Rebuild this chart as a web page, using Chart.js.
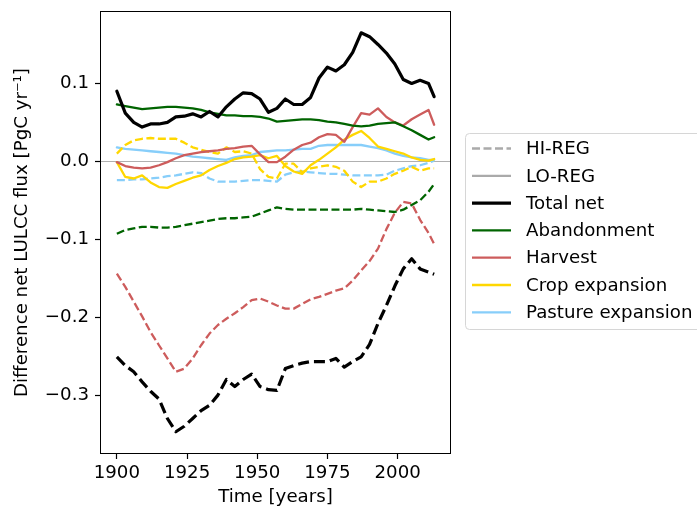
<!DOCTYPE html>
<html>
<head>
<meta charset="utf-8">
<script src="https://cdn.jsdelivr.net/npm/chart.js@4.4.0/dist/chart.umd.min.js"></script>
<style>
  html, body { margin: 0; padding: 0; background: #ffffff; }
  #wrap { width: 697px; height: 508px; }
</style>
</head>
<body>
<div id="wrap"><canvas id="fluxChart" width="697" height="508"></canvas></div>
<script>
// ---- data (every 3 years + last year) ----
const years = [1900, 1903, 1906, 1909, 1912, 1915, 1918, 1921, 1924, 1927, 1930, 1933, 1936,
               1939, 1942, 1945, 1948, 1951, 1954, 1957, 1960, 1963, 1966, 1969, 1972, 1975,
               1978, 1981, 1984, 1987, 1990, 1993, 1996, 1999, 2002, 2005, 2008, 2011, 2013];

// LO-REG (solid)
const totalLo = [0.090, 0.062, 0.050, 0.044, 0.048, 0.048, 0.050, 0.057, 0.058, 0.061, 0.057, 0.064, 0.057,
                 0.070, 0.080, 0.088, 0.087, 0.080, 0.063, 0.068, 0.080, 0.073, 0.073, 0.082, 0.107, 0.121,
                 0.116, 0.124, 0.140, 0.165, 0.160, 0.150, 0.139, 0.125, 0.105, 0.100, 0.104, 0.100, 0.083];
const abandLo = [0.073, 0.071, 0.069, 0.067, 0.068, 0.069, 0.070, 0.070, 0.069, 0.068, 0.066, 0.063, 0.061,
                 0.059, 0.059, 0.058, 0.058, 0.057, 0.055, 0.051, 0.052, 0.053, 0.054, 0.054, 0.053, 0.051,
                 0.050, 0.048, 0.046, 0.045, 0.046, 0.048, 0.049, 0.050, 0.045, 0.040, 0.034, 0.028, 0.031];
const harvLo = [-0.001, -0.006, -0.008, -0.009, -0.008, -0.005, -0.001, 0.004, 0.008, 0.010, 0.012, 0.013, 0.014,
                0.016, 0.017, 0.019, 0.020, 0.009, -0.001, -0.001, 0.006, 0.015, 0.021, 0.024, 0.031, 0.035,
                0.034, 0.025, 0.044, 0.062, 0.060, 0.068, 0.057, 0.050, 0.046, 0.054, 0.060, 0.066, 0.047];
const cropLo = [-0.001, -0.020, -0.022, -0.018, -0.027, -0.033, -0.034, -0.029, -0.025, -0.021, -0.018, -0.011, -0.006,
                -0.002, 0.003, 0.005, 0.006, 0.008, 0.004, 0.007, -0.006, -0.013, -0.016, -0.005, 0.002, 0.010,
                0.018, 0.028, 0.034, 0.039, 0.030, 0.019, 0.016, 0.013, 0.010, 0.005, 0.002, 0.001, 0.003];
const pastLo = [0.018, 0.016, 0.015, 0.014, 0.013, 0.012, 0.011, 0.010, 0.008, 0.006, 0.005, 0.004, 0.003,
                0.002, 0.005, 0.007, 0.008, 0.012, 0.013, 0.014, 0.014, 0.015, 0.016, 0.016, 0.020, 0.021,
                0.021, 0.021, 0.021, 0.021, 0.019, 0.017, 0.014, 0.010, 0.007, 0.005, 0.004, 0.002, 0.002];

// HI-REG (dashed)
const totalHi = [-0.251, -0.262, -0.270, -0.283, -0.295, -0.305, -0.330, -0.347, -0.340, -0.330, -0.320, -0.313, -0.300,
                 -0.280, -0.289, -0.280, -0.273, -0.289, -0.293, -0.294, -0.266, -0.262, -0.259, -0.257, -0.257, -0.257,
                 -0.253, -0.264, -0.257, -0.251, -0.235, -0.208, -0.185, -0.160, -0.138, -0.125, -0.138, -0.142, -0.145];
const abandHi = [-0.093, -0.088, -0.086, -0.084, -0.084, -0.085, -0.085, -0.084, -0.082, -0.080, -0.078, -0.076, -0.074,
                 -0.073, -0.073, -0.072, -0.071, -0.067, -0.063, -0.059, -0.061, -0.062, -0.062, -0.062, -0.062, -0.062,
                 -0.062, -0.062, -0.062, -0.061, -0.062, -0.063, -0.064, -0.065, -0.062, -0.056, -0.050, -0.039, -0.029];
const harvHi = [-0.144, -0.161, -0.180, -0.199, -0.219, -0.236, -0.253, -0.270, -0.266, -0.253, -0.236, -0.221, -0.210,
                -0.202, -0.195, -0.187, -0.178, -0.176, -0.180, -0.185, -0.189, -0.189, -0.183, -0.177, -0.174, -0.170,
                -0.166, -0.163, -0.153, -0.140, -0.128, -0.112, -0.087, -0.066, -0.052, -0.054, -0.075, -0.092, -0.106];
const cropHi = [0.010, 0.021, 0.027, 0.029, 0.030, 0.029, 0.029, 0.029, 0.024, 0.018, 0.015, 0.012, 0.010,
                0.018, 0.012, 0.013, 0.010, -0.010, -0.020, -0.022, -0.003, -0.003, -0.014, -0.009, -0.007, -0.005,
                -0.007, -0.012, -0.026, -0.033, -0.026, -0.026, -0.022, -0.016, -0.012, -0.007, -0.012, -0.009, -0.009];
const pastHi = [-0.024, -0.024, -0.023, -0.023, -0.022, -0.021, -0.019, -0.018, -0.016, -0.014, -0.015, -0.022, -0.026,
                -0.026, -0.026, -0.025, -0.024, -0.024, -0.025, -0.026, -0.017, -0.014, -0.013, -0.014, -0.015, -0.016,
                -0.016, -0.017, -0.018, -0.018, -0.018, -0.018, -0.017, -0.012, -0.009, -0.006, -0.005, -0.002, 0.001];

const xTicks = [1900, 1925, 1950, 1975, 2000];
const yTicks = [-0.3, -0.2, -0.1, 0.0, 0.1];
const legendLabels = ['HI-REG', 'LO-REG', 'Total net', 'Abandonment', 'Harvest', 'Crop expansion', 'Pasture expansion'];

// ---- styling ----
const FONT = 'DejaVu Sans';
const FSIZE = 18.2;
const COLORS = {
    total: '#000000',
    aband: '#006400',
    harv: '#cd5c5c',
    crop: '#ffd700',
    past: '#87cefa',
    reg: '#aaaaaa'
};
const W_TOTAL = 3.2;
const W_LINE = 2.3;
const DASH_TOTAL = [11, 5];
const DASH_LINE = [8, 3.5];

function pts(values) {
    return years.map((yr, i) => ({ x: yr, y: values[i] }));
}

function line(label, values, color, width, dash) {
    return {
        label: label,
        data: pts(values),
        borderColor: color,
        borderWidth: width,
        borderDash: dash || [],
        borderCapStyle: dash ? 'butt' : 'round',
        borderJoinStyle: 'round',
        pointRadius: 0,
        tension: 0,
        fill: false
    };
}

// index 0 is drawn on top
const datasets = [
    line('Total net', totalLo, COLORS.total, W_TOTAL),
    line('Total net HI', totalHi, COLORS.total, W_TOTAL, DASH_TOTAL),
    line('Abandonment', abandLo, COLORS.aband, W_LINE),
    line('Abandonment HI', abandHi, COLORS.aband, W_LINE, DASH_LINE),
    line('Harvest', harvLo, COLORS.harv, W_LINE),
    line('Harvest HI', harvHi, COLORS.harv, W_LINE, DASH_LINE),
    line('Crop expansion', cropLo, COLORS.crop, W_LINE),
    line('Crop expansion HI', cropHi, COLORS.crop, W_LINE, DASH_LINE),
    line('Pasture expansion', pastLo, COLORS.past, W_LINE),
    line('Pasture expansion HI', pastHi, COLORS.past, W_LINE, DASH_LINE)
];

// zero line + the four spines
const framePlugin = {
    id: 'frame',
    beforeDatasetsDraw(chart) {
        const { ctx, chartArea } = chart;
        const y0 = Math.round(chart.scales.y.getPixelForValue(0)) + 0.5;
        ctx.save();
        ctx.strokeStyle = '#b0b0b0';
        ctx.lineWidth = 1;
        ctx.beginPath();
        ctx.moveTo(chartArea.left, y0);
        ctx.lineTo(chartArea.right, y0);
        ctx.stroke();
        ctx.restore();
    },
    afterDatasetsDraw(chart) {
        const { ctx, chartArea } = chart;
        const L = Math.round(chartArea.left);
        const R = Math.round(chartArea.right);
        const T = Math.round(chartArea.top);
        const B = Math.round(chartArea.bottom);
        ctx.save();
        ctx.fillStyle = '#000000';
        ctx.fillRect(L - 1, T - 1, R - L + 2, 1);   // top
        ctx.fillRect(L - 1, B, R - L + 2, 1);       // bottom
        ctx.fillRect(L - 1, T - 1, 1, B - T + 2);   // left
        ctx.fillRect(R, T - 1, 1, B - T + 2);       // right
        ctx.restore();
    }
};

// matplotlib-style legend outside the axes
const legendPlugin = {
    id: 'sideLegend',
    afterDraw(chart) {
        const ctx = chart.ctx;
        const styles = [
            { color: COLORS.reg, width: W_LINE, dash: DASH_LINE },
            { color: COLORS.reg, width: W_LINE, dash: [] },
            { color: COLORS.total, width: W_TOTAL, dash: [] },
            { color: COLORS.aband, width: W_LINE, dash: [] },
            { color: COLORS.harv, width: W_LINE, dash: [] },
            { color: COLORS.crop, width: W_LINE, dash: [] },
            { color: COLORS.past, width: W_LINE, dash: [] }
        ];
        ctx.save();
        ctx.beginPath();
        ctx.roundRect(465.5, 133.5, 245, 196, 4);
        ctx.fillStyle = '#ffffff';
        ctx.fill();
        ctx.strokeStyle = '#d6d6d6';
        ctx.lineWidth = 1;
        ctx.stroke();

        ctx.font = FSIZE + 'px "' + FONT + '"';
        ctx.textBaseline = 'middle';
        ctx.textAlign = 'left';
        legendLabels.forEach((text, i) => {
            const y = 148.5 + i * 27.3;
            const s = styles[i];
            ctx.beginPath();
            ctx.strokeStyle = s.color;
            ctx.lineWidth = s.width;
            ctx.setLineDash(s.dash);
            ctx.lineCap = 'butt';
            ctx.moveTo(472, y);
            ctx.lineTo(511, y);
            ctx.stroke();
            ctx.setLineDash([]);
            ctx.fillStyle = '#000000';
            ctx.fillText(text, 526, y + 1);
        });
        ctx.restore();
    }
};

new Chart(document.getElementById('fluxChart').getContext('2d'), {
    type: 'line',
    data: { datasets: datasets },
    plugins: [framePlugin, legendPlugin],
    options: {
        responsive: false,
        animation: false,
        devicePixelRatio: 1,
        layout: { padding: { left: 0, right: 247, top: 12, bottom: 0 } },
        plugins: {
            legend: { display: false },
            tooltip: { enabled: false }
        },
        scales: {
            x: {
                type: 'linear',
                min: 1894.35,
                max: 2018.65,
                afterBuildTicks: (scale) => { scale.ticks = xTicks.map(v => ({ value: v })); },
                afterFit: (scale) => {
                    scale.height = 55;
                    scale.paddingLeft = 0;
                    scale.paddingRight = 0;
                },
                grid: { drawOnChartArea: false, drawTicks: true, tickLength: 6, tickColor: '#000000', tickWidth: 1.2 },
                border: { display: false },
                ticks: {
                    color: '#000000',
                    font: { family: FONT, size: FSIZE },
                    padding: 3,
                    maxRotation: 0,
                    autoSkip: false,
                    callback: (v) => String(v)
                },
                title: {
                    display: true,
                    text: 'Time [years]',
                    color: '#000000',
                    font: { family: FONT, size: FSIZE },
                    padding: { top: 0, bottom: 0 }
                }
            },
            y: {
                min: -0.3743,
                max: 0.1917,
                afterBuildTicks: (scale) => { scale.ticks = yTicks.map(v => ({ value: v })); },
                afterFit: (scale) => {
                    scale.width = 101;
                    scale.paddingTop = 0;
                    scale.paddingBottom = 0;
                },
                grid: { drawOnChartArea: false, drawTicks: true, tickLength: 6, tickColor: '#000000', tickWidth: 1.2 },
                border: { display: false },
                ticks: {
                    color: '#000000',
                    font: { family: FONT, size: FSIZE },
                    padding: 6,
                    autoSkip: false,
                    callback: (v) => Number(v).toFixed(1).replace('-', '\u2212')
                },
                title: {
                    display: true,
                    text: 'Difference net LULCC flux [PgC yr\u207B\u00B9]',
                    color: '#000000',
                    font: { family: FONT, size: FSIZE },
                    padding: { top: 11, bottom: 0 }
                }
            }
        }
    }
});
</script>
</body>
</html>
